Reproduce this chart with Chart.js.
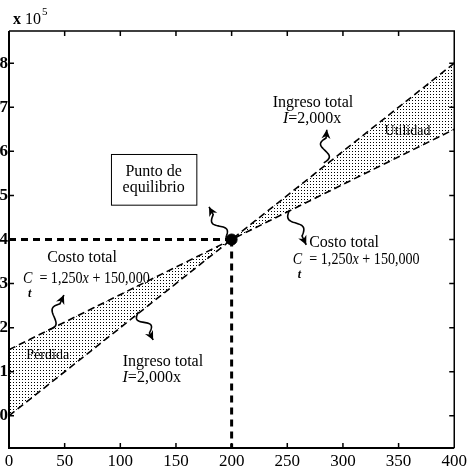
<!DOCTYPE html>
<html>
<head>
<meta charset="utf-8">
<script src="https://cdn.jsdelivr.net/npm/chart.js@4.4.1/dist/chart.umd.min.js"></script>
<style>
  html, body { margin: 0; padding: 0; background: #fff; }
  #wrap { width: 470px; height: 472px; }
</style>
</head>
<body>
<div id="wrap"><canvas id="chart" width="470" height="472"></canvas></div>
<script>
// Break-even chart: total revenue vs total cost
const xValues = [0, 400];
const ingresoTotal = [0, 800000];       // I = 2,000x
const costoTotal = [150000, 650000];    // Ct = 1,250x + 150,000
const puntoEquilibrio = [200, 400000];
const xTicks = [0, 50, 100, 150, 200, 250, 300, 350, 400];
const yTicks = [0, 1, 2, 3, 4, 5, 6, 7, 8];   // x 10^5
const yMin = -73000, yMax = 873000;

const SERIF = '"Liberation Serif", "DejaVu Serif", serif';

const canvas = document.getElementById('chart');
const ctx = canvas.getContext('2d');

// dot-screen fill between the two lines
function dotPattern(){
  const c = document.createElement('canvas');
  c.width = 3; c.height = 3;
  const g = c.getContext('2d');
  g.fillStyle = '#000';
  g.fillRect(1, 1, 1, 1);
  return ctx.createPattern(c, 'repeat');
}

const pts = (xs, ys) => xs.map((x, i) => ({ x, y: ys[i] }));

// annotation anchors, x in units, y in units of 10^5
const textos = [
  { t: 'Costo total', x: 301, y: 3.83, align: 'center' },
  { formula: 'C', x: 255, y: 3.45 },
  { t: 'Ingreso total', x: 273.1, y: 7.01, align: 'center' },
  { formula: 'I', x: 272.3, y: 6.65, align: 'center' },
  { t: 'Costo total', x: 65.6, y: 3.49, align: 'center' },
  { formula: 'C', x: 12.5, y: 3.02 },
  { t: 'Ingreso total', x: 138.3, y: 1.13, align: 'center' },
  { formula: 'I', x: 128.2, y: 0.77, align: 'center' },
  { t: 'Utilidad', x: 358, y: 6.45, align: 'center', small: true },
  { t: 'Pérdida', x: 34.8, y: 1.38, align: 'center', small: true }
];
const flechas = [
  { from: [194.7, 4.04], to: [179.7, 4.74], amp: 5 },
  { from: [252, 4.67], to: [267, 3.88], amp: 5 },
  { from: [282.8, 5.74], to: [285.5, 6.49], amp: 5 },
  { from: [35.2, 1.95], to: [49.3, 2.74], amp: 5 },
  { from: [116.3, 2.36], to: [129.5, 1.72], amp: 5 }
];
const caja = { x0: 91.6, x1: 168.3, y0: 5.94, y1: 4.79, lineas: [['Punto de', 5.44], ['equilibrio', 5.08]] };

function drawSquiggle(g, x0, y0, x1, y1, amp){
  const dx = x1 - x0, dy = y1 - y0, len = Math.hypot(dx, dy);
  const ux = dx / len, uy = dy / len, nx = -uy, ny = ux;
  g.beginPath();
  for (let i = 0; i <= 40; i++){
    const t = i / 40;
    const off = t < 0.75 ? amp * Math.sin(t / 0.75 * 2 * Math.PI) : 0;
    const px = x0 + dx * t + nx * off, py = y0 + dy * t + ny * off;
    if (i === 0) g.moveTo(px, py); else g.lineTo(px, py);
  }
  g.lineWidth = 1.6;
  g.strokeStyle = '#000';
  g.stroke();
  // arrow head
  const hl = 9, hw = 4.5;
  g.beginPath();
  g.moveTo(x1, y1);
  g.lineTo(x1 - ux * hl + nx * hw, y1 - uy * hl + ny * hw);
  g.lineTo(x1 - ux * hl * 0.7, y1 - uy * hl * 0.7);
  g.lineTo(x1 - ux * hl - nx * hw, y1 - uy * hl - ny * hw);
  g.closePath();
  g.fillStyle = '#000';
  g.fill();
}

// draws mixed italic / roman runs starting at x, squeezed horizontally by sx
function runs(g, parts, x, y, size, sx){
  g.save();
  g.translate(x, y);
  g.scale(sx, 1);
  let cx = 0;
  parts.forEach(([s, it]) => {
    g.font = (it ? 'italic ' : '') + size + 'px ' + SERIF;
    g.fillText(s, cx, 0);
    cx += g.measureText(s).width;
  });
  g.restore();
  return cx * sx;
}

const annotations = {
  id: 'annotations',
  afterDatasetsDraw(chart){
    const g = chart.ctx;
    const xs = chart.scales.x, ys = chart.scales.y;
    const px = v => xs.getPixelForValue(v);
    const py = v => ys.getPixelForValue(v * 1e5);
    const a = chart.chartArea;
    g.save();

    // frame
    g.strokeStyle = '#000';
    g.lineWidth = 2;
    g.beginPath();
    g.moveTo(a.left, a.top); g.lineTo(a.left, a.bottom); g.lineTo(a.right, a.bottom);
    g.stroke();
    g.lineWidth = 1.5;
    g.beginPath();
    g.moveTo(a.left, a.top); g.lineTo(a.right, a.top); g.lineTo(a.right, a.bottom);
    g.stroke();

    // inner ticks on all four sides
    g.lineWidth = 1.5;
    g.beginPath();
    xTicks.slice(1, -1).forEach(v => {
      const x = px(v);
      g.moveTo(x, a.bottom); g.lineTo(x, a.bottom - 5);
      g.moveTo(x, a.top); g.lineTo(x, a.top + 5);
    });
    yTicks.forEach(v => {
      const y = py(v);
      g.moveTo(a.left, y); g.lineTo(a.left + 5, y);
      g.moveTo(a.right, y); g.lineTo(a.right - 5, y);
    });
    g.stroke();

    // exponent label
    g.fillStyle = '#000';
    g.textBaseline = 'alphabetic';
    g.textAlign = 'left';
    g.font = 'bold 16px ' + SERIF;
    g.fillText('x', a.left + 4, a.top - 7);
    g.font = '16px ' + SERIF;
    g.fillText('10', a.left + 16, a.top - 7);
    g.font = '11px ' + SERIF;
    g.fillText('5', a.left + 33, a.top - 16);

    // label box
    g.lineWidth = 1;
    g.fillStyle = '#fff';
    const bx = px(caja.x0), by = py(caja.y0);
    const bw = px(caja.x1) - bx, bh = py(caja.y1) - by;
    g.fillRect(bx, by, bw, bh);
    g.strokeRect(bx + 0.5, by + 0.5, bw, bh);
    g.fillStyle = '#000';
    g.textAlign = 'center';
    g.font = '16px ' + SERIF;
    caja.lineas.forEach(([s, y]) => g.fillText(s, (bx + bw / 2), py(y)));

    // text labels
    textos.forEach(o => {
      const x = px(o.x), y = py(o.y);
      if (o.t){
        g.textAlign = o.align || 'left';
        g.textBaseline = o.small ? 'middle' : 'alphabetic';
        g.font = (o.small ? '14px ' : '16px ') + SERIF;
        g.fillText(o.t, x, y);
        g.textBaseline = 'alphabetic';
      } else if (o.formula === 'C'){
        g.textAlign = 'left';
        runs(g, [['C', true], ['  = 1,250', false], ['x', true], [' + 150,000', false]], x, y, 17, 0.83);
        g.font = 'italic bold 12px ' + SERIF;
        g.fillText('t', x + 5, y + 14);
      } else {
        g.textAlign = 'left';
        g.font = 'italic 16px ' + SERIF;
        const w1 = g.measureText('I').width;
        g.font = '16px ' + SERIF;
        const w2 = g.measureText('=2,000x').width;
        runs(g, [['I', true], ['=2,000x', false]], x - (w1 + w2) / 2, y, 16, 1);
      }
    });

    flechas.forEach(f => {
      drawSquiggle(g, px(f.from[0]), py(f.from[1]), px(f.to[0]), py(f.to[1]), f.amp);
    });
    g.restore();
  }
};

new Chart(ctx, {
  type: 'line',
  data: {
    datasets: [
      {
        label: 'Ingreso total',
        data: pts(xValues, ingresoTotal),
        borderColor: '#000', borderWidth: 1.6, borderDash: [7, 4],
        pointRadius: 0, fill: false, order: 3
      },
      {
        label: 'Costo total',
        data: pts(xValues, costoTotal),
        borderColor: '#000', borderWidth: 1.6, borderDash: [7, 4],
        pointRadius: 0, fill: '-1', backgroundColor: dotPattern(), order: 2
      },
      {
        label: 'guía horizontal',
        data: [{ x: xValues[0], y: puntoEquilibrio[1] }, { x: puntoEquilibrio[0], y: puntoEquilibrio[1] }],
        borderColor: '#000', borderWidth: 3, borderDash: [7, 5],
        pointRadius: 0, fill: false, order: 1
      },
      {
        label: 'guía vertical',
        data: [{ x: puntoEquilibrio[0], y: puntoEquilibrio[1] }, { x: puntoEquilibrio[0], y: yMin }],
        borderColor: '#000', borderWidth: 3, borderDash: [7, 5],
        pointRadius: 0, fill: false, order: 1
      },
      {
        label: 'Punto de equilibrio',
        data: [{ x: puntoEquilibrio[0], y: puntoEquilibrio[1] }],
        showLine: false, pointRadius: 5.5, pointBackgroundColor: '#000',
        pointBorderColor: '#000', order: 0
      }
    ]
  },
  options: {
    responsive: false,
    animation: false,
    layout: { padding: { top: 31, right: 9, left: 0, bottom: 0 } },
    plugins: { legend: { display: false }, tooltip: { enabled: false } },
    scales: {
      x: {
        type: 'linear', min: 0, max: 400,
        grid: { display: false, drawTicks: false },
        border: { display: false },
        afterBuildTicks: s => { s.ticks = xTicks.map(v => ({ value: v })); },
        afterFit: s => { s.height = 24; },
        ticks: { color: '#000', padding: 3, maxRotation: 0, autoSkip: false,
                 font: { family: SERIF, size: 17 } }
      },
      y: {
        type: 'linear', min: yMin, max: yMax,
        grid: { display: false, drawTicks: false },
        border: { display: false },
        afterBuildTicks: s => { s.ticks = yTicks.map(v => ({ value: v * 1e5 })); },
        afterFit: s => { s.width = 9; },
        ticks: { color: '#000', padding: 1, autoSkip: false,
                 callback: v => String(v / 1e5),
                 font: { family: SERIF, size: 17, weight: 'bold' } }
      }
    }
  },
  plugins: [annotations]
});
</script>
</body>
</html>
